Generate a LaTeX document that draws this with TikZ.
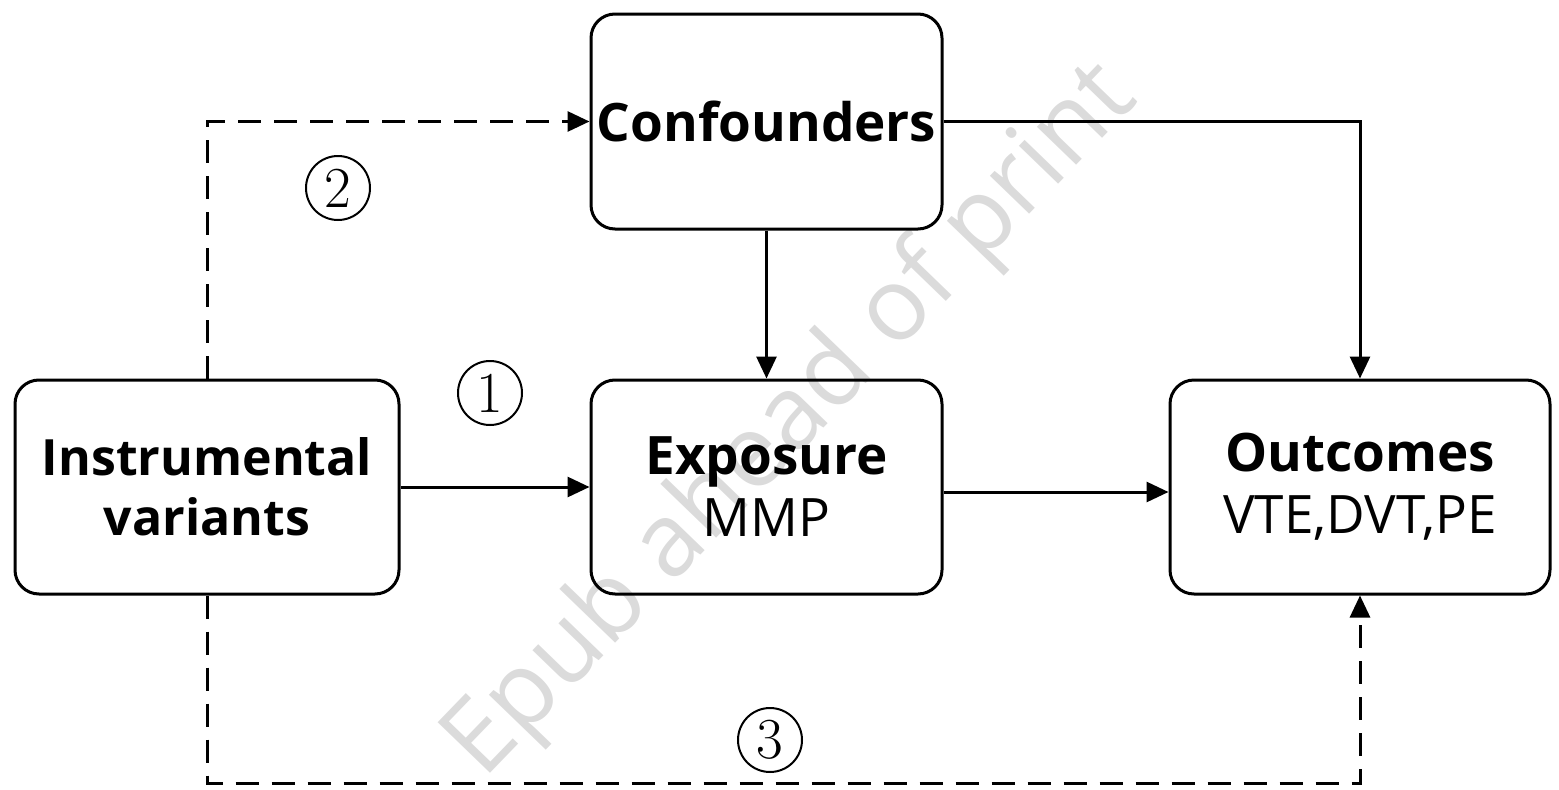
\documentclass[tikz,border=0pt]{standalone}
\usepackage{fontspec}
\newfontfamily\labelfont{Open Sans}
\usetikzlibrary{arrows.meta}
\begin{document}
\begin{tikzpicture}[x=1pt,y=-1pt,
  box/.style={draw=black, line width=3pt, rounded corners=24pt, align=center,
    inner sep=0pt, font=\labelfont\fontsize{53}{62}\selectfont},
  link/.style={line width=3pt, -{Triangle[length=22pt,width=20pt]}},
  dlink/.style={link, dash pattern=on 23pt off 13pt},
  num/.style={circle, draw, line width=2pt, minimum size=64pt, inner sep=0pt,
    font=\fontsize{58}{58}\selectfont},
  mark text/.style={text=black!14, font=\labelfont\fontsize{102}{102}\selectfont}
]
\useasboundingbox (0,0) rectangle (1559,790);

% watermark behind the diagram
\node[mark text, rotate=46] (wm) at (792,422) {Epub ahead of print};

% boxes
\node[box, minimum width=351pt, minimum height=215pt] (conf) at (766.5,121.5) {\bfseries Confounders};
\node[box, minimum width=384pt, minimum height=214pt,
  font=\labelfont\fontsize{50}{60}\selectfont] (instr) at (207,487) {\bfseries Instrumental\\\bfseries variants};
\node[box, minimum width=351pt, minimum height=214pt] (expo) at (766.5,487) {\bfseries Exposure\\MMP};
\node[box, minimum width=380pt, minimum height=214pt] (out) at (1360,487) {\bfseries Outcomes\\VTE,DVT,PE};

% path labels
\node[num] (n1) at (490,393) {1};
\node[num] (n2) at (338,188) {2};
\node[num] (n3) at (770,740) {3};

% causal paths
\draw[link] (instr.east) -- (expo.west);
\draw[link] ([yshift=-5pt]expo.east) -- ([yshift=-5pt]out.west);
\draw[link] (conf.south) -- (expo.north);
\draw[link] (conf.east) -| (out.north);

% violated assumptions
\coordinate (base) at (0,783);
\draw[dlink] (instr.north) |- (conf.west);
\draw[dlink] (instr.south) |- (base -| out.south) -- (out.south);
\end{tikzpicture}
\end{document}
